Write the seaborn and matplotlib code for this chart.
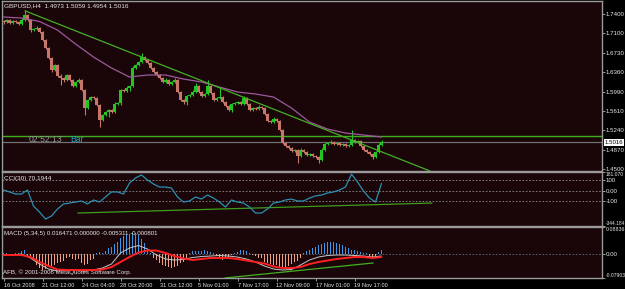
import numpy as np
import pandas as pd
import matplotlib
matplotlib.use("Agg")
import matplotlib.pyplot as plt
import matplotlib.transforms as mtrans
import seaborn as sns

# ---------------- data ----------------
closes = [1.7316, 1.7355, 1.7297, 1.7335, 1.7316, 1.7278, 1.7355, 1.7450, 1.7355, 1.7163,
          1.7183, 1.7210, 1.7125, 1.6972, 1.6819, 1.6628, 1.6399, 1.6494, 1.6284, 1.6246,
          1.6207, 1.6303, 1.6207, 1.6093, 1.6169, 1.6207, 1.6016, 1.5672, 1.5825, 1.5882,
          1.5863, 1.5729, 1.5443, 1.5538, 1.5596, 1.5634, 1.5596, 1.5749, 1.5760, 1.6016,
          1.6000, 1.6054, 1.6093, 1.6437, 1.6494, 1.6552, 1.6647, 1.6590, 1.6532, 1.6437,
          1.6360, 1.6303, 1.6246, 1.6169, 1.6207, 1.6131, 1.6169, 1.6207, 1.5978, 1.5825,
          1.5787, 1.5901, 1.5921, 1.5978, 1.6093, 1.5978, 1.5901, 1.5940, 1.6093, 1.5959,
          1.5825, 1.5863, 1.5882, 1.5787, 1.5710, 1.5634, 1.5749, 1.5768, 1.5787, 1.5749,
          1.5863, 1.5749, 1.5634, 1.5672, 1.5653, 1.5691, 1.5672, 1.5557, 1.5424, 1.5404,
          1.5462, 1.5424, 1.5251, 1.5003, 1.4945, 1.4907, 1.4850, 1.4869, 1.4754, 1.4869,
          1.4831, 1.4773, 1.4793, 1.4754, 1.4735, 1.4678, 1.4869, 1.4984, 1.5003, 1.5022,
          1.4984, 1.5003, 1.4965, 1.4984, 1.4945, 1.4965, 1.5060, 1.5022, 1.5041, 1.4945,
          1.4869, 1.4831, 1.4793, 1.4735, 1.4831, 1.4973, 1.5016]
first_open = 1.7335
upper_wick_pips = [15, 20, 25, 15, 20, 15, 30, 95, 20, 15,
                   20, 25, 15, 20, 15, 25, 20, 20, 15, 30,
                   20, 25, 15, 20, 25, 30, 20, 15, 25, 20,
                   15, 20, 15, 20, 15, 25, 20, 30, 20, 20,
                   20, 30, 15, 35, 25, 20, 75, 20, 15, 20,
                   15, 20, 20, 25, 30, 20, 25, 30, 20, 15,
                   20, 25, 20, 40, 60, 15, 20, 25, 110, 20,
                   15, 25, 190, 20, 15, 20, 25, 20, 20, 15,
                   30, 20, 15, 20, 25, 30, 20, 20, 15, 25,
                   30, 20, 15, 20, 15, 20, 15, 25, 20, 40,
                   20, 15, 20, 15, 25, 20, 30, 25, 20, 30,
                   20, 25, 20, 20, 15, 25, 190, 20, 25, 15,
                   20, 15, 20, 15, 25, 30, 43]
lower_wick_pips = [30, 20, 15, 20, 25, 15, 20, 20, 15, 30,
                   20, 15, 20, 15, 20, 25, 30, 20, 25, 130,
                   40, 20, 25, 20, 15, 20, 25, 130, 20, 15,
                   20, 20, 135, 20, 15, 100, 20, 15, 20, 40,
                   20, 15, 60, 20, 20, 15, 20, 25, 20, 15,
                   20, 15, 20, 25, 20, 20, 15, 20, 25, 20,
                   40, 60, 20, 15, 20, 25, 20, 15, 20, 20,
                   25, 20, 20, 15, 20, 25, 30, 20, 15, 20,
                   20, 25, 20, 15, 20, 25, 20, 15, 20, 25,
                   20, 15, 20, 25, 20, 15, 20, 25, 135, 20,
                   15, 20, 25, 20, 15, 57, 20, 15, 20, 25,
                   20, 15, 20, 25, 20, 15, 20, 20, 15, 20,
                   25, 20, 20, 30, 20, 15, 19]

ma_step = 6
ma_values = [1.7412, 1.7393, 1.7326, 1.7163, 1.6896, 1.6647, 1.6437, 1.6265, 1.6303, 1.6303,
             1.6226, 1.6169, 1.6073, 1.5978, 1.5940, 1.5882, 1.5672, 1.5404, 1.5270, 1.5193,
             1.5156, 1.5118]

trend_bars = [7.2, 142.2]
trend_prices = [1.7529, 1.4467]
hline_price = 1.5136
bid_price = 1.5016

cci_step = 2
cci_values = [6, -13, -33, -33, 6, -150, -208, -276, -247, -179, -130, -121, -111, -101, -130,
              -91, -111, -62, -13, -13, -33, 74, 123, 152, 103, 64, 35, 35, 25, -62, -111,
              -101, -62, -82, -43, -72, -111, -160, -91, -111, -121, -160, -218, -218, -179,
              -121, -111, -91, -82, -101, -101, -72, -52, -43, -23, -13, 6, 35, 160, 84, -4,
              -72, -111, 70.19]
cci_trend_bars = [24.8, 142.8]
cci_trend_vals = [-218, -121]
cci_levels = [100, 0, -100]

macd_hist = [0.002, 0.003, -0.002, 0.001, 0.002, 0.004, 0.008, 0.013, -0.006, -0.013,
             -0.020, -0.035, -0.045, -0.052, -0.050, -0.044, -0.040, -0.038, -0.030, -0.026,
             -0.024, -0.012, -0.010, -0.018, -0.020, -0.016, -0.030, -0.036, -0.033, -0.020,
             -0.016, 0.004, 0.006, 0.004, 0.008, 0.018, 0.022, 0.032, 0.038, 0.052,
             0.060, 0.062, 0.066, 0.070, 0.068, 0.062, 0.048, 0.036, 0.014, 0.004,
             -0.012, -0.020, -0.030, -0.036, -0.040, -0.044, -0.045, -0.043, -0.040, -0.030,
             -0.026, -0.018, 0.004, 0.008, 0.010, 0.008, 0.010, 0.012, 0.010, 0.006,
             0.003, -0.006, -0.015, -0.020, -0.018, -0.012, -0.003, 0.002, 0.006, 0.012,
             0.014, 0.010, 0.003, -0.002, -0.006, -0.012, -0.015, -0.025, -0.030, -0.034,
             -0.036, -0.038, -0.042, -0.044, -0.043, -0.040, -0.032, -0.028, -0.024, -0.014,
             0.002, 0.008, 0.014, 0.018, 0.022, 0.030, 0.034, 0.036, 0.038, 0.040,
             0.039, 0.037, 0.032, 0.028, 0.024, 0.018, 0.014, 0.012, 0.008, 0.006,
             0.004, 0.002, -0.006, -0.010, -0.008, 0.006, 0.014]
macd_line_step = 3
macd_signal = [-0.0036, -0.0036, -0.0036, -0.0102, -0.0266, -0.0397, -0.0512, -0.0528, -0.0528, -0.0528,
               -0.0528, -0.0512, -0.0430, -0.0266, -0.0102, 0.0046, 0.0112, 0.0112, 0.0030, -0.0069,
               -0.0151, -0.0200, -0.0167, -0.0134, -0.0134, -0.0134, -0.0167, -0.0216, -0.0266, -0.0315,
               -0.0413, -0.0462, -0.0462, -0.0430, -0.0331, -0.0266, -0.0216, -0.0167, -0.0134, -0.0102,
               -0.0102, -0.0134, -0.0102]
macd_main = [-0.0036, -0.0036, -0.0003, -0.0134, -0.0331, -0.0495, -0.0561, -0.0528, -0.0528, -0.0561,
             -0.0528, -0.0462, -0.0331, 0.0030, 0.0194, 0.0276, 0.0161, -0.0036, -0.0167, -0.0200,
             -0.0184, -0.0118, -0.0085, -0.0069, -0.0052, -0.0069, -0.0102, -0.0167, -0.0266, -0.0397,
             -0.0495, -0.0528, -0.0512, -0.0364, -0.0200, -0.0102, -0.0052, -0.0036, -0.0036, -0.0052,
             -0.0069, -0.0102, -0.0069]
macd_trend_bars = [73.8, 123.2]
macd_trend_vals = [-0.0790, -0.0298]

price_ticks = [1.4500, 1.4871, 1.5242, 1.5613, 1.5984, 1.6355, 1.6726, 1.7097, 1.7468]
price_tick_labels = ["1.4500", "1.4870", "1.5240", "1.5610", "1.5990", "1.6360", "1.6730", "1.7100", "1.7400"]
cci_ticks = [-344.184, -100, 0, 100, 181.07]
cci_tick_labels = ["-344.184", "-100", "0.00", "100", "181.070"]
macd_ticks = [-0.07903, 0.0, 0.08836]
macd_tick_labels = ["-0.07903", "0.00", "0.08836"]
time_tick_bars = [0, 13, 26, 39, 52, 65, 78, 91, 104, 117]
time_tick_labels = ["16 Oct 2008", "21 Oct 12:00", "24 Oct 04:00", "28 Oct 20:00", "31 Oct 12:00",
                    "5 Nov 01:00", "7 Nov 17:00", "12 Nov 09:00", "17 Nov 01:00", "19 Nov 17:00"]

title_text = "GBPUSD,H4  1.4973 1.5059 1.4954 1.5016"
cci_text = "CCI(30) 70.1944"
macd_text = "MACD (5,34,5) 0.016471 0.000000 -0.005311 -0.000801"
copyright_text = "AFB, \u00a9 2001-2008 MetaQuotes Software Corp."

# ---------------- build tables ----------------
n = len(closes)
bars = np.arange(n)
opens = [first_open] + closes[:-1]
df = pd.DataFrame({"bar": bars, "open": opens, "close": closes,
                   "up": upper_wick_pips, "dn": lower_wick_pips})
df["top"] = df[["open", "close"]].max(axis=1)
df["bot"] = df[["open", "close"]].min(axis=1)
df["high"] = df["top"] + df["up"] * 1e-4
df["low"] = df["bot"] - df["dn"] * 1e-4
df["bull"] = df["close"] >= df["open"]

ma_df = pd.DataFrame({"bar": np.arange(0, n, ma_step), "ma": ma_values})
cci_df = pd.DataFrame({"bar": np.arange(0, n, cci_step), "cci": cci_values})
macd_df = pd.DataFrame({"bar": np.arange(0, n, macd_line_step), "main": macd_main, "signal": macd_signal})

# ---------------- style ----------------
sns.set_theme(style="dark")
plt.rcParams["font.family"] = ["Liberation Sans", "DejaVu Sans"]

BG = "#000000"
PANEL = "#1a0508"
EDGE = "#9a9a9a"
TXT = "#e8e8e8"
BULL = "#22c622"
BEAR = "#c8766a"

W, H = 625, 289
fig = plt.figure(figsize=(W / 100, H / 100), dpi=100, facecolor=BG)

def px_axes(top, bottom):
    return fig.add_axes([2 / W, (H - bottom) / H, 600 / W, (bottom - top) / H])

ax1 = px_axes(1, 171)
ax2 = px_axes(172, 226)
ax3 = px_axes(227, 278)

for ax in (ax1, ax2, ax3):
    ax.set_facecolor(PANEL)
    ax.grid(False)
    for s in ax.spines.values():
        s.set_color(EDGE)
        s.set_linewidth(1.0)
    ax.set_xlim(-0.5, 199.5)
    ax.yaxis.tick_right()
    ax.tick_params(axis="y", which="both", colors="#b0b0b0", labelcolor=TXT,
                   labelsize=4.4, length=1.8, width=0.6, pad=0.8, direction="out")
    ax.tick_params(axis="x", which="both", bottom=False, labelbottom=False)

# ---------------- main price panel ----------------
ax1.set_ylim(1.44675, 1.7718)
cols = np.where(df["bull"], BULL, BEAR)
ax1.vlines(df["bar"], df["low"], df["high"], colors=cols, linewidth=0.8, zorder=3)
ax1.bar(df["bar"], np.maximum(df["top"] - df["bot"], 0.0007), bottom=df["bot"],
        width=0.7, color=cols, linewidth=0, zorder=4)

sns.lineplot(data=ma_df, x="bar", y="ma", ax=ax1, color="#9a5a9e", linewidth=0.9,
             legend=False, zorder=5)
sns.lineplot(x=trend_bars, y=trend_prices, ax=ax1, color="#44b024", linewidth=0.9,
             legend=False, zorder=6)
ax1.axhline(hline_price, color="#3fae1e", linewidth=1.0, zorder=2)
ax1.axhline(bid_price, color="#707070", linewidth=0.9, zorder=2)

ax1.set_yticks(price_ticks)
ax1.set_yticklabels(price_tick_labels)
ax1.text(0.004, 0.985, title_text, transform=ax1.transAxes, color=TXT,
         fontsize=4.6, va="top", ha="left")
ax1.text(8.5, 1.5064, "02:52:13", color="#9a9a9a", fontsize=6.2, va="center", ha="left")
ax1.text(22.3, 1.5064, "Bar", color="#1aa6c4", fontsize=6.2, va="center", ha="left")
bt = mtrans.blended_transform_factory(ax1.transAxes, ax1.transData)
ax1.text(1.004, bid_price, "1.5016", transform=bt, fontsize=4.4, color="#000000",
         va="center", ha="left",
         bbox=dict(facecolor="#ffffff", edgecolor="none", pad=0.6), zorder=10, clip_on=False)

# ---------------- CCI panel ----------------
ax2.set_ylim(-344.184, 181.07)
for lv in cci_levels:
    ax2.axhline(lv, color="#8c8c8c", linewidth=0.6, linestyle=(0, (2, 2)), zorder=1)
sns.lineplot(x=cci_trend_bars, y=cci_trend_vals, ax=ax2, color="#3e9e1c", linewidth=0.9,
             legend=False, zorder=2)
sns.lineplot(data=cci_df, x="bar", y="cci", ax=ax2, color="#2a90b4", linewidth=0.9,
             legend=False, zorder=3)
ax2.set_yticks(cci_ticks)
ax2.set_yticklabels(cci_tick_labels)
lbls = ax2.get_yticklabels()
lbls[0].set_va("bottom")
lbls[0].set_fontsize(3.5)
lbls[-1].set_va("top")
lbls[-1].set_fontsize(3.6)
ax2.text(0.004, 0.93, cci_text, transform=ax2.transAxes, color=TXT,
         fontsize=4.6, va="top", ha="left")

# ---------------- MACD panel ----------------
ax3.set_ylim(-0.07903, 0.08836)
ax3.axhline(0, color="#5a6e80", linewidth=0.6, linestyle=(0, (2, 2)), zorder=1)
hcols = np.where(np.array(macd_hist) >= 0, "#3a98ec", "#f2a282")
ax3.bar(bars, macd_hist, width=0.55, color=hcols, linewidth=0, zorder=2)
sns.lineplot(data=macd_df, x="bar", y="main", ax=ax3, color="#c8c8c8", linewidth=0.7,
             legend=False, zorder=3)
sns.lineplot(data=macd_df, x="bar", y="signal", ax=ax3, color="#ff2020", linewidth=1.4,
             legend=False, zorder=4)
sns.lineplot(x=macd_trend_bars, y=macd_trend_vals, ax=ax3, color="#44b024", linewidth=0.9,
             legend=False, zorder=5)
ax3.set_yticks(macd_ticks)
ax3.set_yticklabels(macd_tick_labels)
lbls = ax3.get_yticklabels()
lbls[0].set_va("bottom")
lbls[0].set_fontsize(3.6)
lbls[-1].set_va("top")
lbls[-1].set_fontsize(3.8)
ax3.text(0.004, 0.93, macd_text, transform=ax3.transAxes, color=TXT,
         fontsize=4.4, va="top", ha="left")
ax3.text(0.002, 0.06, copyright_text, transform=ax3.transAxes, color=TXT,
         fontsize=4.4, va="bottom", ha="left")

ax3.set_xticks(time_tick_bars)
ax3.set_xticklabels(time_tick_labels, ha="left")
ax3.tick_params(axis="x", bottom=True, labelbottom=True, colors="#b0b0b0",
                labelcolor=TXT, labelsize=4.1, length=2, width=0.6, pad=1.5)

for ax in (ax1, ax2, ax3):
    ax.set_xlabel("")
    ax.set_ylabel("")
    ax.set_xlim(-0.5, 199.5)

fig.savefig("out.png", dpi=100, facecolor=BG)
